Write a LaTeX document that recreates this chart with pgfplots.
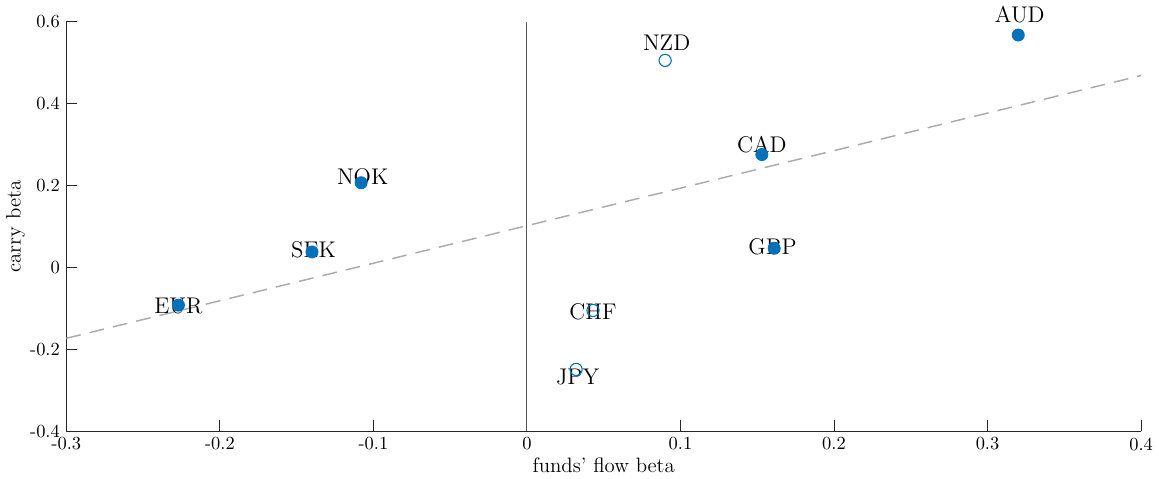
\documentclass[border=0pt]{standalone}
\usepackage{pgfplots}
\pgfplotsset{compat=1.18}
\definecolor{mblue}{RGB}{0,114,189}
\definecolor{tickgray}{RGB}{38,38,38}
\begin{document}
\begin{tikzpicture}
\begin{axis}[
  scale only axis,
  width=583pt, height=222pt,
  xmin=-0.3, xmax=0.4, ymin=-0.4, ymax=0.6,
  axis x line*=bottom, axis y line*=left,
  axis line style={tickgray, line width=0.5pt},
  xtick={-0.3,-0.2,-0.1,0,0.1,0.2,0.3,0.4},
  xticklabels={-0.3,-0.2,-0.1,0,0.1,0.2,0.3,0.4},
  ytick={-0.4,-0.2,0,0.2,0.4,0.6},
  yticklabels={-0.4,-0.2,0,0.2,0.4,0.6},
  tick align=inside,
  major tick length=6pt,
  tick style={tickgray, line width=0.5pt},
  ticklabel style={font=\fontsize{10}{12}\selectfont, text=black},
  xlabel={funds' flow beta},
  ylabel={carry beta},
  label style={font=\fontsize{11.3}{13}\selectfont},
  xlabel style={yshift=3pt},
  ylabel style={yshift=-4pt},
  clip=false,
]
\addplot[color=black!65, line width=0.5pt, forget plot] coordinates {(0,-0.4) (0,0.6)};
\addplot[color=black!33, line width=0.8pt, dash pattern=on 8pt off 5pt] coordinates {(-0.3,-0.173) (0.4,0.469)};
\addplot[only marks, mark=*, mark size=3.3pt, color=mblue, mark options={fill=mblue, draw=mblue}] coordinates {
(0.320,0.568) (0.153,0.276) (-0.108,0.207) (-0.140,0.038) (0.161,0.047) (-0.227,-0.092)
};
\addplot[only marks, mark=o, mark size=3.3pt, color=mblue, mark options={draw=mblue, fill=white, line width=0.6pt}] coordinates {
(0.090,0.506) (0.043,-0.105) (0.032,-0.249)
};
\begin{scope}[every node/.style={font=\fontsize{12.3}{14}\selectfont}]
\node at (axis cs:0.321,0.617) {AUD};
\node at (axis cs:0.091,0.548) {NZD};
\node at (axis cs:0.153,0.3) {CAD};
\node at (axis cs:-0.107,0.222) {NOK};
\node at (axis cs:-0.139,0.043) {SEK};
\node at (axis cs:0.160,0.05) {GBP};
\node at (axis cs:-0.227,-0.094) {EUR};
\node at (axis cs:0.043,-0.108) {CHF};
\node at (axis cs:0.033,-0.268) {JPY};
\end{scope}
\end{axis}
\path (current axis.south west) ++(-35.7pt,-24.3pt) coordinate (bl);
\path (current axis.north east) ++(7.6pt,11.9pt) coordinate (tr);
\path (bl) rectangle (tr);
\end{tikzpicture}
\end{document}
